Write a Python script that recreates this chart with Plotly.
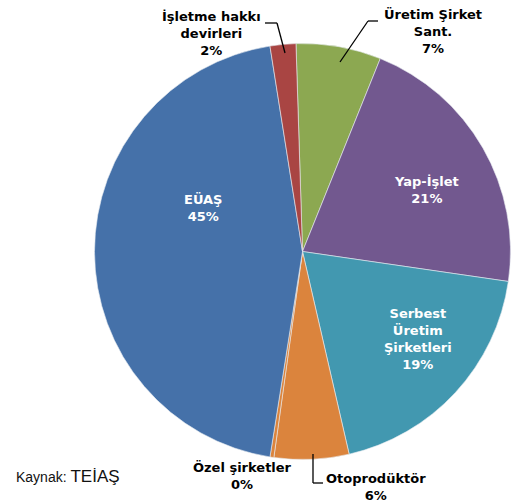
import plotly.graph_objects as go

W, H = 515, 502

# slices, clockwise from 12 o'clock
labels = ["Üretim Şirket Sant.", "Yap-İşlet", "Serbest Üretim Şirketleri",
          "Otoprodüktör", "Özel şirketler", "EÜAŞ", "İşletme hakkı devirleri"]
values = [6.6, 21.2, 19.1, 5.8, 0.3, 45.0, 2.0]
colors = ["#8CA851", "#72588F", "#4298B0", "#DB843D", "#DB843D", "#4571A9", "#A94543"]

# label text per slice (what the chart shows)
label_text = ["Üretim Şirket<br>Sant.<br>7%", "Yap-İşlet<br>21%",
              "Serbest<br>Üretim<br>Şirketleri<br>19%", "Otoprodüktör<br>6%",
              "Özel şirketler<br>0%", "EÜAŞ<br>45%", "İşletme hakkı<br>devirleri<br>2%"]


def px2paper(x, y):
    return x / W, 1 - y / H


fig = go.Figure(go.Pie(
    labels=labels,
    values=values,
    sort=False,
    direction="clockwise",
    rotation=-1.8,
    marker=dict(colors=colors, line=dict(color="#E8ECF2", width=0.6)),
    textinfo="none",
    hoverinfo="label+percent",
    domain=dict(x=[94.5 / W, 510.5 / W], y=[(H - 459.5) / H, (H - 43.5) / H]),
))

# label placement in pixels (centre of text block), font colour
label_pos = [(433, 32, "#000"), (426, 190, "#fff"), (418, 339, "#fff"),
             (376, 487, "#000"), (242, 476, "#000"), (203, 208, "#fff"),
             (211, 34, "#000")]
for txt, (x, y, c) in zip(label_text, label_pos):
    ax, ay = px2paper(x, y)
    fig.add_annotation(x=ax, y=ay, xref="paper", yref="paper", text=txt,
                       xanchor="center", yanchor="middle",
                       showarrow=False, align="center",
                       font=dict(family="DejaVu Sans", size=13, color=c, weight="bold"))

# leader lines
leaders = [
    [(378, 21), (368, 21), (340, 62)],
    [(265, 23), (277, 23), (285, 53)],
    [(313, 454), (313, 483), (323, 483)],
]
for pts in leaders:
    for (x0, y0), (x1, y1) in zip(pts[:-1], pts[1:]):
        a0, b0 = px2paper(x0, y0)
        a1, b1 = px2paper(x1, y1)
        fig.add_shape(type="line", xref="paper", yref="paper", x0=a0, y0=b0,
                      x1=a1, y1=b1, line=dict(color="#000", width=1.3))

fig.add_annotation(x=14 / W, y=1 - 476 / H, xref="paper", yref="paper",
                   xanchor="left", yanchor="middle", showarrow=False,
                   text="Kaynak: <span style='font-size:17px'>TEİAŞ</span>",
                   font=dict(family="Liberation Sans", size=14, color="#111"))

fig.update_layout(
    width=W, height=H,
    margin=dict(l=0, r=0, t=0, b=0),
    showlegend=False,
    paper_bgcolor="white",
)

fig.write_html("out.html", config={"displayModeBar": False},
               post_script="document.body.style.margin='0';")
